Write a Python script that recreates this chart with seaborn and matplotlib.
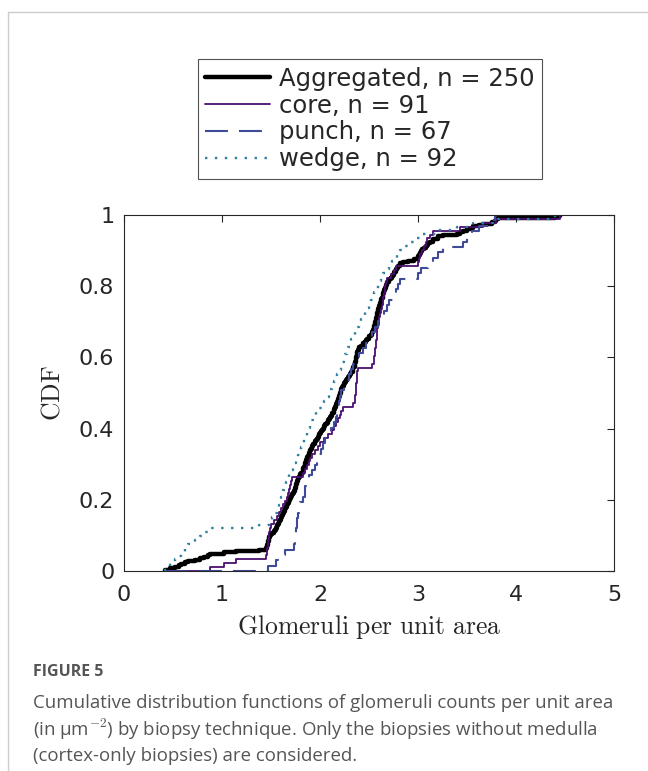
import matplotlib
matplotlib.use("Agg")
import matplotlib.pyplot as plt
from matplotlib.lines import Line2D
import numpy as np
import pandas as pd
import seaborn as sns

# glomeruli per unit area (sorted per biopsy technique)
core = [0.88, 1.02, 1.14,
        1.45, 1.46, 1.46, 1.47, 1.47, 1.48, 1.48, 1.49, 1.50,
        1.53, 1.56, 1.58, 1.60, 1.62, 1.64, 1.66,
        1.67, 1.68, 1.69, 1.70, 1.71,
        1.83,
        1.85, 1.87, 1.89, 1.90, 1.92,
        1.95, 1.98, 2.00,
        2.04, 2.08, 2.12,
        2.14, 2.16, 2.18, 2.20, 2.21, 2.23,
        2.34,
        2.36, 2.36, 2.37, 2.37, 2.37, 2.38, 2.38, 2.38, 2.39,
        2.53,
        2.55, 2.55, 2.56, 2.56, 2.57, 2.57, 2.58, 2.58, 2.58,
        2.59, 2.60, 2.60, 2.61,
        2.62, 2.63, 2.64, 2.64, 2.65, 2.66, 2.66, 2.67, 2.68,
        2.72, 2.75, 2.78,
        3.00, 3.01, 3.02,
        3.04, 3.06, 3.08, 3.09,
        3.12, 3.15,
        3.43, 3.66, 3.80, 4.45]

punch = [1.47,
         1.55, 1.57,
         1.64,
         1.73, 1.74, 1.75, 1.76, 1.77, 1.77, 1.78,
         1.79, 1.80,
         1.83, 1.85, 1.85, 1.86,
         1.89, 1.92, 1.95,
         1.97, 1.99, 2.01, 2.03, 2.05,
         2.08, 2.11, 2.14, 2.16,
         2.17, 2.18, 2.19, 2.20, 2.21,
         2.24, 2.27, 2.30, 2.32, 2.34, 2.36,
         2.40, 2.44, 2.47, 2.50,
         2.53, 2.56, 2.59, 2.62,
         2.65, 2.68, 2.70, 2.74, 2.78,
         2.80, 2.82,
         3.00, 3.03, 3.10, 3.15,
         3.20, 3.26,
         3.46, 3.50,
         3.55, 3.62,
         3.75, 3.79]

wedge = [0.42, 0.47, 0.52, 0.56, 0.58, 0.62, 0.65, 0.72, 0.78, 0.82, 0.86,
         1.38,
         1.48, 1.51, 1.54,
         1.56, 1.58, 1.59,
         1.60, 1.61, 1.62, 1.63, 1.65, 1.66,
         1.68, 1.70, 1.72, 1.74, 1.76, 1.78, 1.80,
         1.81, 1.83, 1.84, 1.86, 1.87, 1.88, 1.90, 1.91, 1.93,
         1.96, 1.99, 2.02, 2.04, 2.07,
         2.09, 2.10, 2.12, 2.14, 2.15, 2.17,
         2.19, 2.21, 2.22, 2.24, 2.26,
         2.28, 2.29, 2.31, 2.32, 2.34,
         2.36, 2.38, 2.40, 2.42, 2.44,
         2.46, 2.48, 2.50, 2.52, 2.54, 2.55, 2.57, 2.59, 2.61, 2.62, 2.64,
         2.67, 2.70, 2.73, 2.76, 2.79, 2.82, 2.85,
         2.90, 2.96, 3.03,
         3.20,
         3.40, 3.56,
         3.82,
         4.40]

aggregated = sorted(core + punch + wedge)

caption_lines = [
    "Cumulative distribution functions of glomeruli counts per unit area",
    "(in \u03bcm$^{-2}$) by biopsy technique. Only the biopsies without medulla",
    "(cortex-only biopsies) are considered.",
]

sns.set_style("white")
plt.rcParams["font.family"] = ["DejaVu Sans"]
plt.rcParams["mathtext.fontset"] = "cm"

fig = plt.figure(figsize=(6.48, 7.71), dpi=100)
ax = fig.add_axes([124 / 648, 200 / 771, 490 / 648, 356 / 771])

# ECDFs evaluated on one common grid (all curves span the pooled range)
grid = np.unique(aggregated)


def ecdf_frame(values, label):
    vals = np.sort(values)
    F = np.searchsorted(vals, grid, side="right") / len(vals)
    x = np.r_[grid[0], grid]
    y = np.r_[0.0, F]
    return pd.DataFrame({"x": x, "F": y, "group": label})


styles = [
    ("Aggregated, n = %d" % len(aggregated), aggregated, "black", "-", 3.2),
    ("core, n = %d" % len(core), core, "#4a0f6e", "-", 1.3),
    ("punch, n = %d" % len(punch), punch, "#3f4a98", (0, (11, 5.3)), 1.5),
    ("wedge, n = %d" % len(wedge), wedge, "#2d7fa0", (0, (1, 3.2)), 1.7),
]

handles = []
for label, vals, color, ls, lw in styles:
    df = ecdf_frame(vals, label)
    sns.lineplot(data=df, x="x", y="F", ax=ax, color=color, linestyle=ls,
                 linewidth=lw, drawstyle="steps-post", estimator=None,
                 sort=False, legend=False)
    handles.append(Line2D([], [], color=color, linestyle=ls, linewidth=lw,
                          label=label))

ax.set_xlim(0, 5)
ax.set_ylim(0, 1)
ax.set_xticks([0, 1, 2, 3, 4, 5])
ax.set_xticklabels(["0", "1", "2", "3", "4", "5"])
ax.set_yticks([0, 0.2, 0.4, 0.6, 0.8, 1])
ax.set_yticklabels(["0", "0.2", "0.4", "0.6", "0.8", "1"])
ax.tick_params(direction="in", length=5, width=0.8, labelsize=16,
               top=True, right=True, colors="#262626")
ax.tick_params(axis="x", pad=10)
ax.tick_params(axis="y", pad=7)
for s in ax.spines.values():
    s.set_visible(True)
    s.set_color("#262626")
    s.set_linewidth(0.8)

ax.set_xlabel(r"$\mathrm{Glomeruli\ per\ unit\ area}$", fontsize=18.5,
              labelpad=6)
ax.set_ylabel(r"$\mathrm{CDF}$", fontsize=18.5, labelpad=10)

leg = fig.legend(handles=handles, loc="center",
                 bbox_to_anchor=(370 / 648, 1 - 119 / 771),
                 fontsize=17.5, frameon=True, fancybox=False,
                 handlelength=2.67, handletextpad=0.4, labelspacing=0.12,
                 borderpad=0.3, borderaxespad=0)
leg.get_frame().set_edgecolor("#262626")
leg.get_frame().set_linewidth(0.8)

# outer figure frame of the journal page
fig.add_artist(Line2D([8 / 648, 8 / 648], [0, 1 - 12 / 771],
                      color="#cccccc", lw=1, transform=fig.transFigure))
fig.add_artist(Line2D([8 / 648, 1], [1 - 12 / 771, 1 - 12 / 771],
                      color="#cccccc", lw=1, transform=fig.transFigure))

fig.text(33 / 648, 1 - 672 / 771, "FIGURE 5", fontsize=11.5,
         fontweight="bold", color="#555555", family="Open Sans",
         va="center")
for i, line in enumerate(caption_lines):
    fig.text(33 / 648, 1 - (703 + 26.5 * i) / 771, line, fontsize=13.4,
             color="#555555", family="Open Sans", va="center")

fig.savefig("out.png", dpi=100)
